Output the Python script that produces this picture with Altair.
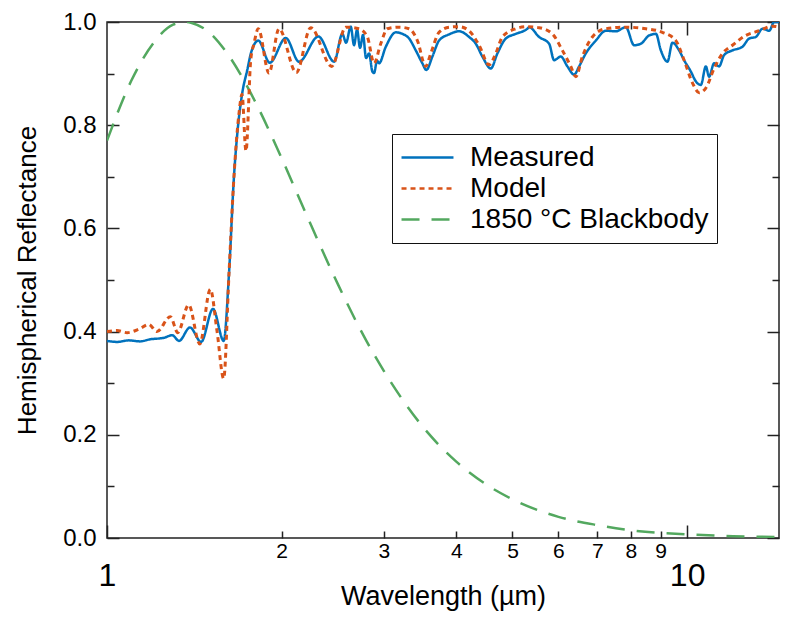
import altair as alt
import pandas as pd

# ---------------- data ----------------
measured_wl = [1.000, 1.040, 1.091, 1.140, 1.186, 1.254, 1.295, 1.331, 1.390, 1.453,
               1.523, 1.589, 1.623, 1.656, 1.678, 1.711, 1.745, 1.771, 1.823, 1.908,
               2.033, 2.143, 2.314, 2.463, 2.545, 2.583, 2.631, 2.666, 2.698, 2.730,
               2.763, 2.796, 2.830, 2.867, 2.886, 2.921, 2.944, 3.024, 3.146, 3.230,
               3.317, 3.406, 3.496, 3.552, 3.638, 3.736, 3.887, 4.045, 4.209, 4.322,
               4.437, 4.588, 4.709, 4.869, 5.066, 5.305, 5.341, 5.557, 5.782, 5.898,
               6.057, 6.217, 6.385, 6.513, 6.688, 6.959, 7.240, 7.534, 7.840, 8.102,
               8.323, 8.602, 8.834, 9.009, 9.248, 9.434, 9.687, 9.881, 10.148, 10.351,
               10.560, 10.771, 10.911, 11.130, 11.353, 11.581, 11.970, 12.455, 12.793, 13.135,
               13.487, 13.851, 14.125, 14.58, 14.87]
measured_val = [0.382, 0.380, 0.383, 0.381, 0.385, 0.388, 0.393, 0.382, 0.408, 0.380,
                0.444, 0.382, 0.513, 0.704, 0.786, 0.863, 0.907, 0.940, 0.964, 0.921,
                0.969, 0.923, 0.972, 0.923, 0.977, 0.960, 0.991, 0.955, 0.985, 0.950,
                0.975, 0.930, 0.939, 0.904, 0.901, 0.925, 0.920, 0.952, 0.980, 0.977,
                0.968, 0.945, 0.920, 0.907, 0.933, 0.964, 0.976, 0.982, 0.971, 0.958,
                0.933, 0.910, 0.939, 0.968, 0.977, 0.987, 0.990, 0.971, 0.958, 0.926,
                0.933, 0.914, 0.898, 0.914, 0.939, 0.964, 0.983, 0.982, 0.990, 0.955,
                0.958, 0.974, 0.977, 0.945, 0.923, 0.960, 0.945, 0.926, 0.904, 0.885,
                0.878, 0.914, 0.894, 0.920, 0.914, 0.936, 0.945, 0.952, 0.968, 0.971,
                0.987, 0.983, 1.000, 1.000, 0.990]

model_wl = [1.000, 1.040, 1.083, 1.136, 1.180, 1.219, 1.286, 1.324, 1.383, 1.445,
            1.507, 1.548, 1.589, 1.623, 1.656, 1.689, 1.709, 1.736, 1.769, 1.792,
            1.823, 1.902, 1.979, 2.120, 2.245, 2.440, 2.580, 2.719, 2.811, 2.886,
            2.964, 3.043, 3.187, 3.316, 3.428, 3.543, 3.615, 3.736, 3.888, 4.045,
            4.208, 4.379, 4.556, 4.679, 4.803, 5.065, 5.303, 5.556, 5.858, 6.095,
            6.302, 6.429, 6.599, 6.865, 7.240, 7.840, 8.489, 9.066, 9.561, 9.881,
            10.213, 10.488, 10.771, 11.130, 11.503, 11.970, 12.626, 13.31, 14.03, 14.87]
model_val = [0.400, 0.402, 0.398, 0.405, 0.414, 0.400, 0.429, 0.398, 0.452, 0.376,
             0.482, 0.400, 0.309, 0.513, 0.704, 0.824, 0.860, 0.750, 0.926, 0.958,
             0.987, 0.901, 0.987, 0.902, 0.989, 0.914, 0.990, 0.987, 0.971, 0.920,
             0.958, 0.987, 0.990, 0.987, 0.964, 0.914, 0.939, 0.980, 0.990, 0.991,
             0.983, 0.955, 0.917, 0.939, 0.971, 0.987, 0.991, 0.989, 0.977, 0.945,
             0.914, 0.894, 0.933, 0.971, 0.987, 0.990, 0.987, 0.980, 0.964, 0.926,
             0.882, 0.863, 0.872, 0.910, 0.939, 0.955, 0.974, 0.983, 0.992, 0.985]

bb_wl = [1.0, 1.1, 1.2, 1.3, 1.365, 1.4, 1.5, 1.6, 1.8, 2.0, 2.2, 2.5, 2.8, 3.0,
         3.5, 4.0, 4.5, 5.0, 6.0, 7.0, 8.0, 10.0, 12.0, 14.87]
bb_val = [0.770, 0.885, 0.958, 0.995, 1.000, 0.998, 0.980, 0.944, 0.846, 0.736,
          0.630, 0.492, 0.382, 0.324, 0.216, 0.148, 0.104, 0.075, 0.041, 0.025,
          0.015, 0.007, 0.0036, 0.0015]

series_names = ["Measured", "Model", "1850 °C Blackbody"]
series_colors = ["#0072BD", "#D95319", "#53A85F"]
series_dash = [[1, 0], [5, 4], [18, 12]]

x_minor_ticks = [2, 3, 4, 5, 6, 7, 8, 9]
x_major_ticks = [1, 10]
y_major_ticks = [0.0, 0.2, 0.4, 0.6, 0.8, 1.0]
y_minor_ticks = [0.1, 0.3, 0.5, 0.7, 0.9]
x_domain = [1, 14.4]
y_domain = [0, 1]

# ---------------- build ----------------
FONT = "Liberation Sans"
TICK = "#222222"

df_meas = pd.DataFrame({"wl": measured_wl, "val": measured_val, "series": series_names[0]})
df_model = pd.DataFrame({"wl": model_wl, "val": model_val, "series": series_names[1]})
df_bb = pd.DataFrame({"wl": bb_wl, "val": bb_val, "series": series_names[2]})
df_dummy = pd.DataFrame({"wl": x_domain, "val": y_domain})

xscale = alt.Scale(type="log", domain=x_domain, nice=False)
yscale = alt.Scale(domain=y_domain, nice=False, zero=False)

legend = alt.Legend(
    orient="none", legendX=285, legendY=112, title=None,
    symbolType="stroke", symbolSize=2700, symbolStrokeWidth=2.5,
    labelFont=FONT, labelFontSize=28, labelColor="black", labelOffset=15, labelLimit=400,
    strokeColor="#111111", fillColor="white", padding=8, rowPadding=0, clipHeight=31,
)
color = alt.Color("series:N", scale=alt.Scale(domain=series_names, range=series_colors), legend=legend)
dash = alt.StrokeDash("series:N", scale=alt.Scale(domain=series_names, range=series_dash), legend=legend)


def ax(orient, values, size, labels=False, **kw):
    base = dict(orient=orient, values=values, tickSize=size, offset=-size, domain=False, grid=False,
                tickColor=TICK, tickWidth=1.5, labels=labels, labelFlush=False, labelOverlap=False,
                labelFont=FONT, labelColor="black", titleFont=FONT, titleColor="black",
                titleFontWeight="normal", title=None)
    base.update(kw)
    return alt.Axis(**base)


x_bottom_minor = ax("bottom", x_minor_ticks, 7, labels=True, labelPadding=2, labelFontSize=21, format="d",
                    title="Wavelength (µm)", titleFontSize=27, titlePadding=22)
y_left_major = ax("left", y_major_ticks, 12, labels=True, labelPadding=11, labelFontSize=24, format=".1f",
                  title="Hemispherical Reflectance", titleFontSize=26, titlePadding=22)


def line(df, width):
    return alt.Chart(df).mark_line(strokeWidth=width, interpolate="monotone", clip=True).encode(
        x=alt.X("wl:Q", scale=xscale, axis=None),
        y=alt.Y("val:Q", scale=yscale, axis=None),
        color=color, strokeDash=dash,
    )


green = alt.Chart(df_bb).mark_line(strokeWidth=2.5, interpolate="monotone", clip=True).encode(
    x=alt.X("wl:Q", scale=xscale, axis=x_bottom_minor),
    y=alt.Y("val:Q", scale=yscale, axis=y_left_major),
    color=color, strokeDash=dash,
)
blue = line(df_meas, 2.5)
orange = line(df_model, 3)


def dummy(xaxis, yaxis):
    return alt.Chart(df_dummy).mark_point(opacity=0, size=0).encode(
        x=alt.X("wl:Q", scale=xscale, axis=xaxis),
        y=alt.Y("val:Q", scale=yscale, axis=yaxis),
    )


d2 = dummy(ax("bottom", x_major_ticks, 13, labels=True, labelPadding=22, labelFontSize=32, format="d"),
           ax("left", y_minor_ticks, 7))
d3 = dummy(ax("top", x_minor_ticks, 7), ax("right", y_major_ticks, 12))
d4 = dummy(ax("top", [10], 13), ax("right", y_minor_ticks, 7))

chart = (
    alt.layer(green, blue, orange, d2, d3, d4)
    .resolve_axis(x="independent", y="independent")
    .properties(width=672, height=516, padding={"left": 6, "top": 2, "right": 0, "bottom": 4},
                background="white")
    .configure_view(stroke="#222222", strokeWidth=1.5)
)

chart.save("out.html", embed_options={"renderer": "svg", "actions": False})
